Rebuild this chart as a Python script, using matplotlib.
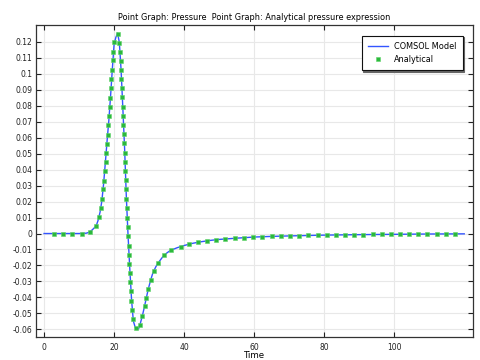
import matplotlib
matplotlib.use("Agg")
import matplotlib.pyplot as plt

# ---------------- data ----------------
title = "Point Graph: Pressure  Point Graph: Analytical pressure expression"
x_label = "Time"
series_names = ["COMSOL Model", "Analytical"]

model_time = [0, 2.5, 5, 7.5, 10, 12, 12.5, 13, 13.5, 14, 14.5, 15, 15.5, 16, 16.5,
              17, 17.5, 18, 18.5, 19, 19.5, 20, 20.5, 21, 21.5, 22, 22.5, 23, 23.5,
              24, 24.5, 25, 25.5, 26, 26.5, 27, 27.5, 28, 28.5, 29, 29.5, 30, 30.5,
              31, 31.5, 32, 33, 34, 35, 36, 38, 40, 42.5, 45, 47.5, 50, 55, 60, 65,
              70, 80, 90, 100, 110, 120]
model_pressure = [0, 0, 0, 0, 0, 0.0002, 0.0005, 0.001, 0.0018, 0.0028, 0.0039, 0.0055,
                  0.0087, 0.0135, 0.0203, 0.031, 0.0443, 0.058, 0.0708, 0.0862, 0.1030,
                  0.1185, 0.1228, 0.1255, 0.1197, 0.1024, 0.0785, 0.0535, 0.0229,
                  -0.0017, -0.0227, -0.0418, -0.0548, -0.0585, -0.0601, -0.0597, -0.0562,
                  -0.0522, -0.0475, -0.0425, -0.0374, -0.0328, -0.0288, -0.0252, -0.0227,
                  -0.0205, -0.0172, -0.0143, -0.0123, -0.0107, -0.0089, -0.0075, -0.0061,
                  -0.0051, -0.0043, -0.0037, -0.0029, -0.0022, -0.0018, -0.0015, -0.0010,
                  -0.0007, -0.0005, -0.0003, -0.0002]

analytical_time = [2.9, 5.4, 8.0, 10.7, 13.2, 14.9, 15.7, 16.2, 16.6, 16.9, 17.1, 17.3,
                   17.6, 17.8, 18.0, 18.2, 18.4, 18.6, 18.8, 18.95, 19.1, 19.25, 19.4,
                   19.6, 19.8, 20.05, 21.1,
                   21.52, 21.81, 21.90, 22.0, 22.10, 22.29, 22.38, 22.48, 22.57, 22.67,
                   22.86, 22.95, 23.05, 23.14, 23.24, 23.33, 23.43, 23.52, 23.62, 23.71,
                   23.90, 24.0, 24.19, 24.29, 24.38, 24.57, 24.67, 24.76, 24.95, 25.14,
                   25.43, 26.19,
                   27.4, 28.1, 28.7, 29.2, 29.8, 30.5, 31.3, 32.6, 34.3, 36.3,
                   39.0, 41.5, 44.0, 46.6, 49.2, 51.8, 54.4, 57.1, 59.7, 62.3, 65.0,
                   67.6, 70.2, 72.8, 75.4, 78.1, 80.7, 83.3, 85.9, 88.5, 91.2, 93.8,
                   96.4, 99.0, 101.6, 104.3, 106.9, 109.5, 112.1, 114.7, 117.4]
analytical_pressure = [0, 0, 0, 0, 0.0012, 0.005, 0.0102, 0.0159, 0.0217, 0.0276, 0.0332,
                       0.0389, 0.0445, 0.0503, 0.056, 0.0618, 0.0678, 0.0737, 0.0794,
                       0.085, 0.0909, 0.0967, 0.1026, 0.1085, 0.1139, 0.1197, 0.1252,
                       0.1195, 0.1139, 0.1082, 0.1024, 0.0966, 0.0909, 0.0853, 0.0794,
                       0.0735, 0.0677, 0.0623, 0.0564, 0.0506, 0.0449, 0.0393, 0.0334,
                       0.0276, 0.0217, 0.0161, 0.0100, 0.0042, -0.0017, -0.0075, -0.0132,
                       -0.0190, -0.0247, -0.0305, -0.0362, -0.0420, -0.0476, -0.0535,
                       -0.0594,
                       -0.057, -0.0514, -0.0456, -0.0404, -0.0345, -0.0288, -0.0234,
                       -0.0184, -0.0136, -0.0104,
                       -0.0082, -0.0066, -0.0055, -0.0046, -0.0039, -0.0034, -0.0029,
                       -0.0026, -0.0022, -0.0020, -0.0018, -0.0016, -0.0015, -0.0013,
                       -0.0012, -0.0011, -0.0010, -0.0009, -0.0008, -0.0008, -0.0007,
                       -0.0006, -0.0006, -0.0005, -0.0005, -0.0004, -0.0004, -0.0003,
                       -0.0003, -0.0003, -0.0002]

x_ticks = [0, 20, 40, 60, 80, 100]
y_ticks = [-0.06, -0.05, -0.04, -0.03, -0.02, -0.01, 0, 0.01, 0.02, 0.03, 0.04, 0.05,
           0.06, 0.07, 0.08, 0.09, 0.1, 0.11, 0.12]
y_tick_labels = ["-0.06", "-0.05", "-0.04", "-0.03", "-0.02", "-0.01", "0", "0.01", "0.02",
                 "0.03", "0.04", "0.05", "0.06", "0.07", "0.08", "0.09", "0.1", "0.11", "0.12"]

# ---------------- figure ----------------
plt.rcParams['font.family'] = ['DejaVu Sans']
fig = plt.figure(figsize=(4.8, 3.6), dpi=100)
ax = fig.add_axes([36 / 480, 1 - 337 / 360, 437 / 480, 311.7 / 360])

ax.plot(model_time, model_pressure, color='#3355ff', lw=1.0, label=series_names[0], zorder=3)
ax.plot(analytical_time, analytical_pressure, ls='none', marker='s', ms=3.4,
        mfc='#2cb83c', mec='#5fd46a', mew=0.4, label=series_names[1], zorder=4)

ax.set_xlim(-2.3, 122.5)
ax.set_ylim(-0.0648, 0.1304)
ax.set_xticks(x_ticks)
ax.set_xticklabels([str(v) for v in x_ticks])
ax.set_yticks(y_ticks)
ax.set_yticklabels(y_tick_labels)

ax.grid(True, color='#e8e8e8', lw=0.8, zorder=0)
ax.set_axisbelow(True)
ax.tick_params(direction='in', length=3.5, width=0.8, labelsize=5.5, colors='#222222',
               top=True, right=True, pad=2.5)
ax.tick_params(axis='x', pad=4)
for s in ax.spines.values():
    s.set_color('#333333')
    s.set_linewidth(0.9)

ax.set_title(title, fontsize=5.9, pad=3.5)
ax.set_xlabel(x_label, fontsize=6.2, labelpad=-0.5)

leg = ax.legend(loc='upper right', bbox_to_anchor=(0.9765, 0.9667), borderaxespad=0,
                fontsize=5.9, frameon=True, fancybox=False, edgecolor='#111111',
                handlelength=2.5, handletextpad=0.7, numpoints=1, borderpad=0.75,
                labelspacing=0.55,
                shadow={'ox': 1.0, 'oy': -1.0, 'color': '#666666', 'alpha': 1.0})
leg.get_frame().set_linewidth(0.8)

fig.savefig("out.png", dpi=100)
